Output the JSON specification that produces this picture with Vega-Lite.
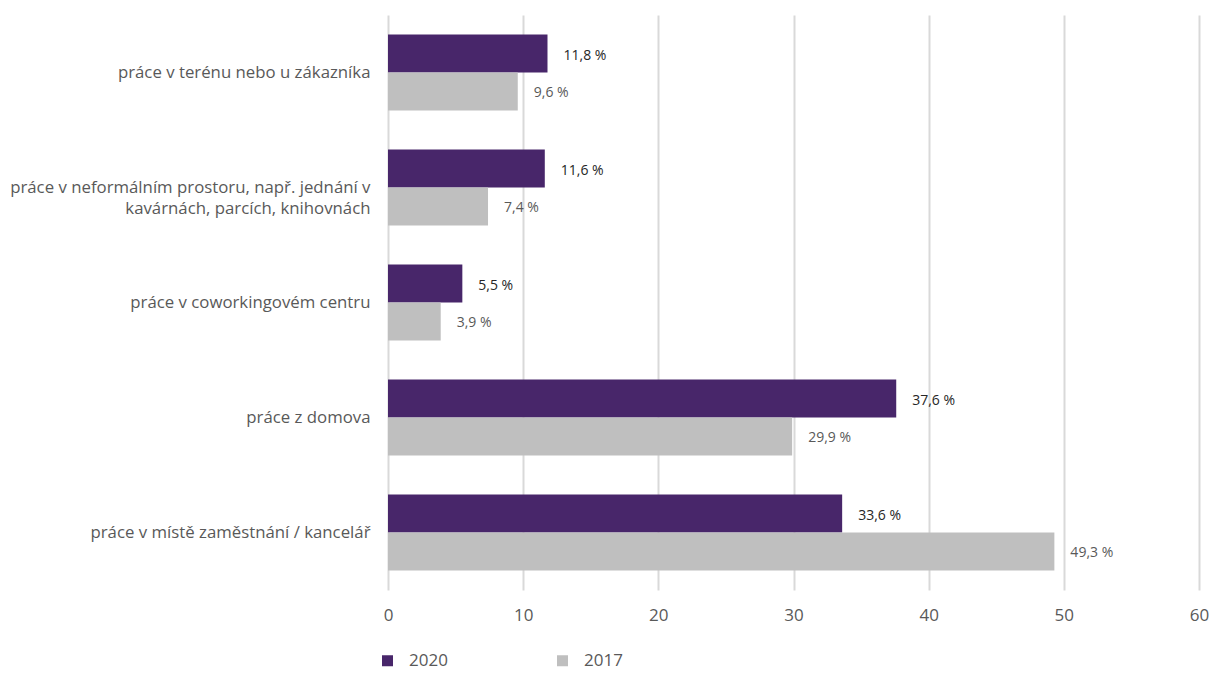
{
  "$schema": "https://vega.github.io/schema/vega-lite/v6.json",
  "width": 811,
  "height": 575,
  "autosize": {"type": "none"},
  "padding": {"left": 388, "top": 15, "right": 12, "bottom": 83},
  "background": "white",
  "config": {
    "font": "Open Sans",
    "view": {"stroke": null}
  },
  "data": {
    "values": [
      {"cat": "práce v terénu nebo u zákazníka", "year": "2020", "value": 11.8},
      {"cat": "práce v terénu nebo u zákazníka", "year": "2017", "value": 9.6},
      {"cat": "práce v neformálním prostoru, např. jednání v|kavárnách, parcích, knihovnách", "year": "2020", "value": 11.6},
      {"cat": "práce v neformálním prostoru, např. jednání v|kavárnách, parcích, knihovnách", "year": "2017", "value": 7.4},
      {"cat": "práce v coworkingovém centru", "year": "2020", "value": 5.5},
      {"cat": "práce v coworkingovém centru", "year": "2017", "value": 3.9},
      {"cat": "práce z domova", "year": "2020", "value": 37.6},
      {"cat": "práce z domova", "year": "2017", "value": 29.9},
      {"cat": "práce v místě zaměstnání / kancelář", "year": "2020", "value": 33.6},
      {"cat": "práce v místě zaměstnání / kancelář", "year": "2017", "value": 49.3}
    ]
  },
  "transform": [
    {"calculate": "replace(format(datum.value, '.1f'), '.', ',') + ' %'", "as": "label"}
  ],
  "encoding": {
    "y": {
      "field": "cat",
      "type": "nominal",
      "sort": null,
      "scale": {"paddingInner": 0.34, "paddingOuter": 0.17},
      "axis": {
        "title": null,
        "domain": false,
        "ticks": false,
        "grid": false,
        "labelPadding": 18,
        "labelFontSize": 16.8,
        "labelColor": "#595959",
        "labelLimit": 400,
        "labelExpr": "split(datum.label, '|')",
        "labelLineHeight": 21
      }
    },
    "yOffset": {"field": "year", "type": "nominal", "sort": ["2020", "2017"]},
    "x": {
      "field": "value",
      "type": "quantitative",
      "scale": {"domain": [0, 60], "nice": false},
      "axis": {
        "title": null,
        "domain": false,
        "ticks": false,
        "grid": true,
        "gridColor": "#d9d9d9",
        "gridWidth": 2,
        "values": [0, 10, 20, 30, 40, 50, 60],
        "labelOverlap": false,
        "labelFlush": false,
        "labelPadding": 17,
        "labelFontSize": 17,
        "labelColor": "#595959"
      }
    }
  },
  "layer": [
    {
      "mark": {"type": "bar"},
      "encoding": {
        "color": {
          "field": "year",
          "type": "nominal",
          "scale": {"domain": ["2020", "2017"], "range": ["#48266a", "#bfbfbf"]},
          "legend": {
            "title": null,
            "orient": "none",
            "legendX": -9,
            "legendY": 637,
            "direction": "horizontal",
            "symbolType": "square",
            "symbolSize": 121,
            "symbolStrokeWidth": 0,
            "labelFontSize": 17,
            "labelColor": "#595959",
            "labelOffset": 13,
            "columnPadding": 106,
            "padding": 0
          }
        }
      }
    },
    {
      "mark": {"type": "text", "align": "left", "dx": 16, "dy": 2, "fontSize": 14},
      "encoding": {
        "text": {"field": "label"},
        "color": {
          "field": "year",
          "type": "nominal",
          "scale": {"domain": ["2020", "2017"], "range": ["#262626", "#595959"]},
          "legend": null
        }
      }
    }
  ],
  "resolve": {"scale": {"color": "independent"}}
}
